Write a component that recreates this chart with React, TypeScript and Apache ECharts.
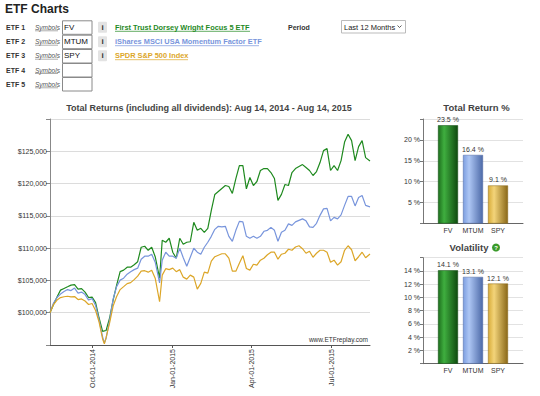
import React, { useEffect, useRef } from "react";
import * as echarts from "echarts";

const dates = [
  "2014-08-14","2014-08-18","2014-08-22","2014-08-26","2014-08-30","2014-09-03","2014-09-07","2014-09-11",
  "2014-09-15","2014-09-19","2014-09-23","2014-09-27","2014-10-01","2014-10-05","2014-10-09","2014-10-13",
  "2014-10-15","2014-10-17","2014-10-21","2014-10-25","2014-10-29","2014-11-02","2014-11-06","2014-11-10",
  "2014-11-14","2014-11-18","2014-11-22","2014-11-26","2014-11-30","2014-12-04","2014-12-08","2014-12-12",
  "2014-12-17","2014-12-20","2014-12-24","2014-12-28","2015-01-01","2015-01-05","2015-01-09","2015-01-13",
  "2015-01-17","2015-01-21","2015-01-25","2015-01-29","2015-02-02","2015-02-06","2015-02-10","2015-02-14",
  "2015-02-18","2015-02-22","2015-02-26","2015-03-02","2015-03-06","2015-03-10","2015-03-14","2015-03-18",
  "2015-03-22","2015-03-26","2015-03-30","2015-04-03","2015-04-07","2015-04-11","2015-04-15","2015-04-19",
  "2015-04-23","2015-04-27","2015-05-01","2015-05-05","2015-05-09","2015-05-13","2015-05-17","2015-05-21",
  "2015-05-25","2015-05-29","2015-06-02","2015-06-06","2015-06-10","2015-06-14","2015-06-18","2015-06-22",
  "2015-06-26","2015-06-30","2015-07-04","2015-07-08","2015-07-12","2015-07-16","2015-07-20","2015-07-24",
  "2015-07-28","2015-08-01","2015-08-05","2015-08-09","2015-08-14"
];

const fvValues = [
  100000,101270,102420,103500,103760,104010,104270,104350,103660,103730,103190,102350,102420,101570,99180,97100,
  97180,97250,99180,101960,104270,106360,106590,107050,107050,107440,107900,110140,110290,109670,110140,108670,
  105350,111220,110910,111530,109370,108440,111530,110600,110910,110990,114000,112760,113070,112450,113070,115850,
  118320,118780,119240,119700,119550,118470,120780,122790,122790,119190,120940,119700,120320,122020,122330,122330,
  121710,120780,117390,118320,119860,119700,121710,122330,122640,122940,122480,122020,121250,121860,123250,125100,
  125410,122020,122790,122020,123560,126420,127650,126650,123560,125720,126650,124020,123500
];

const mtumValues = [
  100000,101500,102350,102890,103270,103580,103430,103810,103040,103190,102810,101960,102190,101110,98870,96270,
  95320,96020,98870,102110,104040,105050,105350,105970,106360,106670,106900,108290,108750,108750,109060,107820,
  104630,108130,109370,108750,108750,108440,109980,108520,107210,108590,109980,109370,109060,110140,110910,111830,
  112910,113380,113300,113380,111830,111060,112760,114150,114070,111830,111530,111830,111530,111830,112610,112760,
  113220,112760,111060,112450,112760,113760,113530,114070,114300,114530,114230,113300,113220,113840,115080,116080,
  116150,114230,114770,114530,115150,116620,118010,118010,116540,117850,118160,116620,116400
];

const spyValues = [
  100000,101270,101960,102350,102470,102550,102450,102500,102040,102140,101810,101270,101420,100340,98560,95940,
  95170,96170,98410,101030,102500,103580,104040,104510,104660,105120,105660,106430,106510,106280,106590,105350,
  101700,105820,106820,106670,106900,106360,106670,105510,105200,105820,105510,103660,104540,106280,106130,107980,
  108670,108900,109130,109130,108440,106430,106430,107670,108830,106850,106590,107510,107360,108130,108440,108980,
  109370,109370,108290,109060,109210,109830,109670,110180,110370,109910,109210,109520,108590,109210,109670,109670,
  109370,107820,108130,107360,107900,109670,110370,109750,108050,108670,109370,108520,109100
];

const xTickDates = ["2014-10-01", "2015-01-01", "2015-04-01", "2015-07-01"];

const barCategories = ["FV", "MTUM", "SPY"];
const totalReturn = [23.5, 16.4, 9.1];
const volatility = [14.1, 13.1, 12.1];

const etfSymbols = ["FV", "MTUM", "SPY", "", ""];
const etfNames = [
  "First Trust Dorsey Wright Focus 5 ETF",
  "iShares MSCI USA Momentum Factor ETF",
  "SPDR S&P 500 Index",
];

const FONT = "'Liberation Sans', Arial, sans-serif";
const GREEN = "#1f8a1f";
const BLUE = "#7895dc";
const GOLD = "#dca628";
const MONTHS = ["Jan","Feb","Mar","Apr","May","Jun","Jul","Aug","Sep","Oct","Nov","Dec"];

const DAY = 86400000;
const t0 = Date.parse(dates[0]);
const toDay = (d: string) => Math.round((Date.parse(d) - t0) / DAY);
const fmtDay = (v: number) => {
  const d = new Date(t0 + Math.round(v) * DAY);
  const m = MONTHS[d.getUTCMonth()];
  const dd = String(d.getUTCDate()).padStart(2, "0");
  return `${m}-${dd}-${d.getUTCFullYear()}`;
};

const money = (v: number) => "$" + v.toLocaleString("en-US");

function barGradient(c: string[]) {
  return new echarts.graphic.LinearGradient(0, 0, 1, 0, [
    { offset: 0, color: c[0] },
    { offset: 0.3, color: c[1] },
    { offset: 1, color: c[2] },
  ]);
}
const barColors = [
  ["#1d6f1d", "#3fae3f", "#0f4a0f"],
  ["#7d9ee0", "#adc6f4", "#4d6aa8"],
  ["#d8ac3a", "#f3d47a", "#8a6818"],
];
const barBorders = ["#0f4a0f", "#4a64a0", "#8a6818"];

function buildGraphic() {
  const g: any[] = [];
  g.push({
    type: "text", left: 5, top: 3,
    style: { text: "ETF Charts", font: `bold 12px ${FONT}`, fill: "#222" },
  });
  const rowY = [27.3, 41.7, 55.7, 70, 84.3];
  const boxTop = [20.3, 34.7, 49, 63, 77];
  for (let i = 0; i < 5; i++) {
    g.push({
      type: "text", x: 6, y: rowY[i],
      style: { text: `ETF ${i + 1}`, font: `bold 7px ${FONT}`, fill: "#333", textVerticalAlign: "middle" },
    });
    g.push({
      type: "text", x: 35, y: rowY[i],
      style: { text: "Symbols", font: `italic 6.5px ${FONT}`, fill: "#555", textVerticalAlign: "middle" },
    });
    g.push({ type: "line", shape: { x1: 35, y1: rowY[i] + 3.5, x2: 58, y2: rowY[i] + 3.5 }, style: { stroke: "#777", lineWidth: 0.6 } });
    g.push({
      type: "rect", shape: { x: 62.5, y: boxTop[i] + 0.5, width: 29.5, height: 13.5 },
      style: { fill: "#fff", stroke: "#8a8a8a", lineWidth: 1 },
    });
    if (etfSymbols[i]) {
      g.push({
        type: "text", x: 64, y: rowY[i],
        style: { text: etfSymbols[i], font: `8px ${FONT}`, fill: "#111", textVerticalAlign: "middle" },
      });
    }
    if (i < 3) {
      g.push({ type: "rect", shape: { x: 98, y: rowY[i] - 5.5, width: 9, height: 11, r: 1 }, style: { fill: "#e3e3e3" } });
      g.push({
        type: "text", x: 102.5, y: rowY[i],
        style: { text: "i", font: `bold 8px ${FONT}`, fill: "#333", textAlign: "center", textVerticalAlign: "middle" },
      });
      const colors = [GREEN, BLUE, GOLD];
      const ends = [250, 259, 188];
      g.push({
        type: "text", x: 115, y: rowY[i],
        style: { text: etfNames[i], font: `bold 7.4px ${FONT}`, fill: colors[i], textVerticalAlign: "middle" },
      });
      g.push({ type: "line", shape: { x1: 115, y1: rowY[i] + 4, x2: ends[i], y2: rowY[i] + 4 }, style: { stroke: colors[i], lineWidth: 0.7 } });
    }
  }
  g.push({
    type: "text", x: 288, y: 27,
    style: { text: "Period", font: `bold 7px ${FONT}`, fill: "#333", textVerticalAlign: "middle" },
  });
  g.push({ type: "rect", shape: { x: 341.5, y: 20.5, width: 64, height: 12.5 }, style: { fill: "#fff", stroke: "#bbb", lineWidth: 1 } });
  g.push({
    type: "text", x: 344, y: 27,
    style: { text: "Last 12 Months", font: `7.5px ${FONT}`, fill: "#222", textVerticalAlign: "middle" },
  });
  g.push({ type: "polyline", shape: { points: [[397.5, 25.5], [399.5, 27.5], [401.5, 25.5]] }, style: { stroke: "#333", lineWidth: 0.8, fill: "none" } });

  g.push({
    type: "text", x: 209, y: 107.5,
    style: { text: "Total Returns (including all dividends): Aug 14, 2014 - Aug 14, 2015", font: `bold 9px ${FONT}`, fill: "#444", textAlign: "center", textVerticalAlign: "middle" },
  });
  g.push({
    type: "text", x: 476.5, y: 107.7,
    style: { text: "Total Return %", font: `bold 9.5px ${FONT}`, fill: "#444", textAlign: "center", textVerticalAlign: "middle" },
  });
  g.push({
    type: "text", x: 469, y: 247.5,
    style: { text: "Volatility", font: `bold 9.5px ${FONT}`, fill: "#444", textAlign: "center", textVerticalAlign: "middle" },
  });
  g.push({ type: "circle", shape: { cx: 496, cy: 247.5, r: 4 }, style: { fill: "#3a9a2a" } });
  g.push({
    type: "text", x: 496, y: 247.7,
    style: { text: "?", font: `bold 6px ${FONT}`, fill: "#fff", textAlign: "center", textVerticalAlign: "middle" },
  });
  g.push({
    type: "text", x: 368, y: 339.5,
    style: { text: "www.ETFreplay.com", font: `6.5px ${FONT}`, fill: "#333", textAlign: "right", textVerticalAlign: "middle" },
  });
  return g;
}

export default function App() {
  const ref = useRef<HTMLDivElement>(null);
  useEffect(() => {
    if (!ref.current) return;
    const chart = echarts.init(ref.current, undefined, { renderer: "svg" });
    const days = dates.map(toDay);
    const mk = (vals: number[]) => vals.map((v, i) => [days[i], v]);
    const padCats = ["", ...barCategories, ""];
    const padData = (arr: number[]) => [null, ...arr, null];

    const barSeriesData = (arr: number[]) =>
      padData(arr).map((v, i) =>
        v == null
          ? null
          : {
              value: v,
              itemStyle: { color: barGradient(barColors[i - 1]), borderColor: barBorders[i - 1], borderWidth: 0.5 },
            }
      );

    const barYAxis = (gi: number, max: number, interval: number) => ({
      type: "value",
      gridIndex: gi,
      min: 0,
      max,
      interval,
      axisLine: { show: true, lineStyle: { color: "#777", width: 1 } },
      axisTick: { show: true, length: 3, lineStyle: { color: "#777" } },
      axisLabel: {
        fontSize: 7,
        fontFamily: FONT,
        color: "#333",
        margin: 3,
        formatter: (v: number) => (v === 0 || v === max ? "" : `${v} %`),
      },
      splitLine: { show: true, lineStyle: { color: "#e2e2e2", width: 1 } },
    });
    const barXAxis = (gi: number) => ({
      type: "category",
      gridIndex: gi,
      data: padCats,
      boundaryGap: false,
      axisLine: { show: true, lineStyle: { color: "#666", width: 1 } },
      axisTick: { show: false },
      axisLabel: { fontSize: 7, fontFamily: FONT, color: "#333", margin: 3, interval: 0 },
      splitLine: { show: false },
    });

    chart.setOption({
      animation: false,
      backgroundColor: "#fff",
      textStyle: { fontFamily: FONT },
      graphic: buildGraphic(),
      grid: [
        { left: 50, top: 119, width: 320, height: 226, outerBoundsMode: "none", containLabel: false },
        { left: 423, top: 119, width: 100, height: 104.5, outerBoundsMode: "none", containLabel: false },
        { left: 423, top: 257.7, width: 100, height: 106, outerBoundsMode: "none", containLabel: false },
      ],
      xAxis: [
        {
          type: "value",
          gridIndex: 0,
          min: 0,
          max: 365,
          axisLine: { show: true, onZero: false, lineStyle: { color: "#555", width: 1 } },
          axisTick: { show: true, length: 3, customValues: xTickDates.map(toDay), lineStyle: { color: "#555" } },
          axisLabel: {
            customValues: xTickDates.map(toDay),
            rotate: 90,
            fontSize: 7,
            fontFamily: FONT,
            color: "#333",
            margin: 4,
            formatter: (v: number) => fmtDay(v),
          },
          splitLine: { show: false },
        },
        barXAxis(1),
        barXAxis(2),
      ],
      yAxis: [
        {
          type: "value",
          gridIndex: 0,
          min: 95000,
          max: 130000,
          interval: 5000,
          axisLine: { show: true, lineStyle: { color: "#888", width: 1 } },
          axisTick: { show: true, length: 4, lineStyle: { color: "#888" } },
          axisLabel: {
            fontSize: 7,
            fontFamily: FONT,
            color: "#333",
            margin: 3,
            formatter: (v: number) => (v === 95000 || v === 130000 ? "" : money(v)),
          },
          splitLine: { show: true, lineStyle: { color: "#dcdcdc", width: 1 } },
        },
        barYAxis(1, 25, 5),
        barYAxis(2, 16, 2),
      ],
      series: [
        {
          type: "line", name: "FV", xAxisIndex: 0, yAxisIndex: 0, data: mk(fvValues),
          showSymbol: false, symbol: "none", lineStyle: { color: GREEN, width: 1.2 }, itemStyle: { color: GREEN },
        },
        {
          type: "line", name: "MTUM", xAxisIndex: 0, yAxisIndex: 0, data: mk(mtumValues),
          showSymbol: false, symbol: "none", lineStyle: { color: BLUE, width: 1.2 }, itemStyle: { color: BLUE },
        },
        {
          type: "line", name: "SPY", xAxisIndex: 0, yAxisIndex: 0, data: mk(spyValues),
          showSymbol: false, symbol: "none", lineStyle: { color: GOLD, width: 1.2 }, itemStyle: { color: GOLD },
        },
        {
          type: "bar", xAxisIndex: 1, yAxisIndex: 1, data: barSeriesData(totalReturn), barWidth: 20,
          label: { show: true, position: "top", fontSize: 7, fontFamily: FONT, color: "#333", distance: 2, formatter: (p: any) => `${p.value} %` },
        },
        {
          type: "bar", xAxisIndex: 2, yAxisIndex: 2, data: barSeriesData(volatility), barWidth: 20,
          label: { show: true, position: "top", fontSize: 7, fontFamily: FONT, color: "#333", distance: 2, formatter: (p: any) => `${p.value} %` },
        },
      ],
    });
    return () => chart.dispose();
  }, []);
  return (
    <div
      ref={ref}
      style={{ position: "fixed", left: 0, top: 0, width: 540, height: 396, background: "#fff" }}
    />
  );
}
